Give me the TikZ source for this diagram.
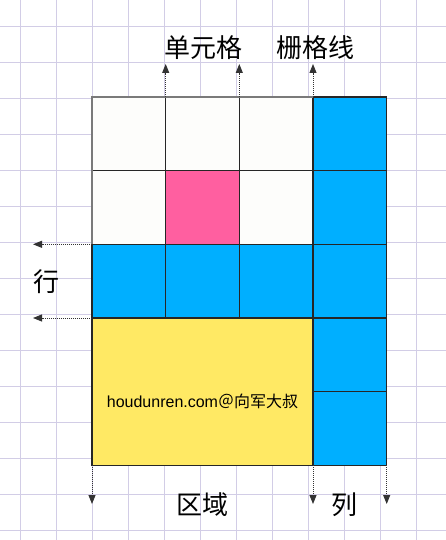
\documentclass[tikz,border=0pt]{standalone}
\usepackage{fontspec}
\setmainfont{Noto Sans CJK SC}
\newfontfamily\latinpart{Liberation Sans}
\usetikzlibrary{arrows.meta}
\definecolor{gridbg}{HTML}{D2CDE6}
\definecolor{cellwhite}{HTML}{FDFDFB}
\definecolor{cellpink}{HTML}{FF5FA0}
\definecolor{cellblue}{HTML}{00AFFF}
\definecolor{cellyellow}{HTML}{FFE964}
\definecolor{edgegray}{HTML}{7A7A7A}
\tikzset{
  bgline/.style={draw=gridbg, line width=0.8pt},
  cellbox/.style={draw=black!85, line width=1.2pt},
  hint/.style={draw=black!80, line width=0.9pt, dash pattern=on 1pt off 1pt,
    -{Triangle[length=9pt,width=7pt]}},
  biglabel/.style={font=\fontsize{26}{28}\selectfont, inner sep=0pt},
  marklabel/.style={font=\fontsize{16}{18}\selectfont, inner sep=0pt}
}
\begin{document}
\begin{tikzpicture}[x=1pt,y=-1pt]
\useasboundingbox (0,0) rectangle (446,540);
\fill[white] (0,0) rectangle (446,540);
% background grid
\foreach \k in {0,...,11} { \draw[bgline] (20.7+36*\k,0) -- (20.7+36*\k,540); }
\foreach \k in {0,...,14} { \draw[bgline] (0,26.3+36*\k) -- (446,26.3+36*\k); }
% grid corners
\coordinate (a0) at (92,97);
\coordinate (a1) at (165.7,97);
\coordinate (a2) at (239.3,97);
\coordinate (a3) at (313,97);
\coordinate (l2) at (92,244.3);
\coordinate (l3) at (92,318);
\coordinate (b0) at (92,465.3);
\coordinate (b3) at (313,465.3);
\coordinate (b4) at (386.7,465.3);
% cells
\fill[cellwhite] (92,97) rectangle (313,244.3);
\fill[cellpink] (165.7,170.7) rectangle (239.3,244.3);
\fill[cellblue] (313,97) rectangle (386.7,465.3);
\fill[cellblue] (92,244.3) rectangle (313,318);
\fill[cellyellow] (92,318) rectangle (313,465.3);
% cell lines
\draw[cellbox] (165.7,97) -- (165.7,244.3);
\draw[cellbox] (239.3,97) -- (239.3,244.3);
\draw[cellbox] (92,170.7) -- (313,170.7);
\draw[cellbox] (92,244.3) -- (386.7,244.3);
\draw[cellbox] (313,170.7) -- (386.7,170.7);
\draw[cellbox] (165.7,244.3) -- (165.7,318);
\draw[cellbox] (239.3,244.3) -- (239.3,318);
\draw[cellbox] (92,318) -- (386.7,318);
\draw[cellbox] (313,391.7) -- (386.7,391.7);
\draw[cellbox] (313,97) -- (313,465.3);
\draw[cellbox] (386.7,97) -- (386.7,465.3);
\draw[cellbox] (92,244.3) -- (92,465.3) -- (386.7,465.3);
\draw[draw=edgegray, line width=1.3pt] (92,244.3) -- (92,97) -- (313,97);
\draw[cellbox] (313,97) -- (386.7,97);
% hint arrows
\coordinate (t1) at (165.7,64);
\coordinate (t2) at (239.3,64);
\coordinate (t3) at (313,64);
\coordinate (s2) at (33,244.3);
\coordinate (s3) at (33,318);
\coordinate (d0) at (92,504);
\coordinate (d3) at (313,504);
\coordinate (d4) at (386.7,504);
\draw[hint] (a1) -- (t1);
\draw[hint] (a2) -- (t2);
\draw[hint] (a3) -- (t3);
\draw[hint] (l2) -- (s2);
\draw[hint] (l3) -- (s3);
\draw[hint] (b0) -- (d0);
\draw[hint] (b3) -- (d3);
\draw[hint] (b4) -- (d4);
% labels
\node[biglabel] (cellname) at (203,48) {单元格};
\node[biglabel] (linename) at (315,48) {栅格线};
\node[biglabel] (rowname) at (46,282) {行};
\node[biglabel] (areaname) at (202.5,505) {区域};
\node[biglabel] (colname) at (344,505) {列};
\node[marklabel] (mark) at (202.5,401) {{\latinpart houdunren.com}＠向军大叔};
\end{tikzpicture}
\end{document}
